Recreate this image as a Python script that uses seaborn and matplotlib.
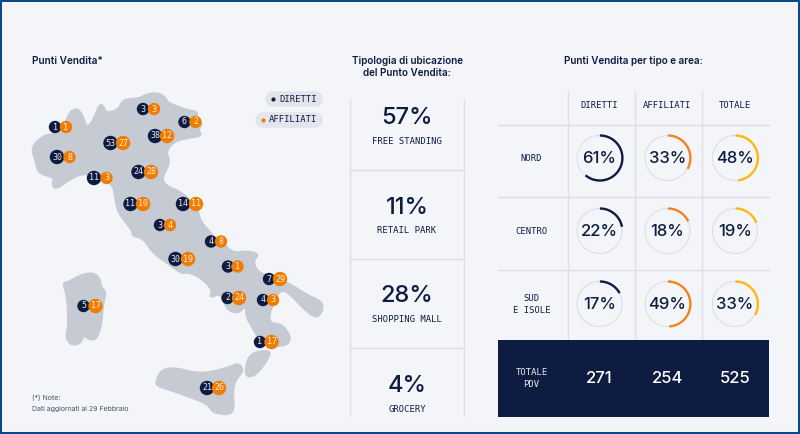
import numpy as np
import pandas as pd
import matplotlib
matplotlib.use("Agg")
import matplotlib.pyplot as plt
import matplotlib.patheffects as pe
from matplotlib.patches import Polygon, Rectangle
import seaborn as sns

# ---- values
diretti = [1, 3, 6, 38, 53, 30, 24, 11, 11, 14, 3, 4, 30, 3, 7, 2, 4, 5, 1, 21]
affiliati = [1, 3, 2, 12, 27, 8, 28, 3, 10, 11, 4, 8, 19, 1, 29, 24, 3, 17, 17, 26]
ubicazione_pct = [57, 11, 28, 4]
ubicazione_lbl = ["FREE STANDING", "RETAIL PARK", "SHOPPING MALL", "GROCERY"]
colonne = ["DIRETTI", "AFFILIATI", "TOTALE"]
righe = ["NORD", "CENTRO", "SUD\nE ISOLE"]
pct_diretti = [61, 22, 17]
pct_affiliati = [33, 18, 49]
pct_totale = [48, 19, 33]
totali = [271, 254, 525]

# ---- layout (pixels)
x_dir = [55, 143, 184.5, 155, 110.5, 57, 138.5, 94, 130.5, 183, 160, 211, 175.5, 228, 269, 227.5, 263, 83.5, 260, 207]
x_aff = [66, 154, 195.5, 167, 123, 69.5, 151, 106.5, 143, 196, 170, 221, 188, 237.5, 280, 239, 273, 95.5, 271.5, 219]
y_pin = [127, 109, 122, 136, 143, 157, 172, 178, 204, 204, 225, 241.5, 259, 266.5, 279, 298, 300, 306, 342, 388]
mainland = [(31,147),(43,136),(52,134),(62,132),(68,116),(72,110),(78,109),(83,116),(87,129),(95,117),(99,105),(103,105),
 (106,113),(118,110),(123,100),(131,99),(140,98),(147,94),(158,93),(165,97),(168,103),(187,110),(199,112),(194,119),
 (203,123),(198,130),(202,136),(187,138),(173,142),(166,152),(170,162),(165,172),(162,180),(168,187),(177,190),
 (187,197),(197,207),(200,220),(208,230),(217,240),(223,243),(233,253),(248,251),(259,254),(253,262),
 (258,272),(267,275),(287,282),(307,295),(323,302),(322,313),(315,318),(303,308),(288,292),(280,290),(272,305),
 (268,323),(282,324),(291,337),(287,346),(262,346),(254,330),(246,317),(246,305),(238,314),(226,309),(222,293),
 (209,298),(213,290),(200,277),(187,272),(182,274),(167,263),(153,253),(143,238),(132,236),(133,231),(118,213),
 (115,197),(113,185),(103,180),(87,173),(73,177),(55,190),(52,183),(55,178),(38,173),(36,162)]
calabria = [(250,353),(270,350),(269,358),(256,375),(247,377),(245,370)]
sardegna = [(63,283),(68,282),(83,274),(94,273),(100,279),(101,287),(106,292),(103,305),(101,327),(96,340),(88,339),
 (84,335),(80,344),(71,345),(66,338),(68,327),(68,307),(66,293)]
sicilia = [(156,381),(162,369),(177,368),(190,372),(207,373),(230,367),(238,363),(244,370),(234,382),(233,397),
 (234,403),(232,415),(213,413),(208,404),(187,396),(167,389),(157,386)]
col_x = [599.5, 667.5, 735]
row_y = [158, 231, 304]

NAVY = "#0e1c42"; ORANGE = "#f07d00"; ARC_OR = "#f58220"; YEL = "#fdb813"
BG = "#f3f5f8"; LINE = "#dcdfe6"; MAP = "#c5cad3"; BLUE = "#0b4a8c"
SANS = "Inter"; MONO = "DejaVu Sans Mono"

def smooth(pts, n=2):
    p = np.asarray(pts, float)
    for _ in range(n):
        q = np.roll(p, -1, axis=0)
        p = np.column_stack([0.75 * p + 0.25 * q, 0.25 * p + 0.75 * q]).reshape(-1, 2)
    return p

sns.set_theme(style="white")
fig = plt.figure(figsize=(8, 4.34), dpi=100, facecolor=BG)
ax = fig.add_axes([0, 0, 1, 1])
ax.set_xlim(0, 800); ax.set_ylim(434, 0); ax.axis("off")

ax.add_patch(Rectangle((0, 0), 800, 434, fc="none", ec=BLUE, lw=2.9, zorder=10, clip_on=True))

def T(x, y, s, size, color=NAVY, weight="normal", fam=SANS, **k):
    return ax.text(x, y, s, fontsize=size, color=color, fontweight=weight, family=fam,
                   ha=k.pop("ha", "center"), va=k.pop("va", "center"), **k)

T(32, 60.5, "Punti Vendita*", 7.25, weight="semibold", ha="left")
T(407, 60.5, "Tipologia di ubicazione", 7.15, weight="semibold")
T(407, 73, "del Punto Vendita:", 7.15, weight="semibold")
T(633, 60.5, "Punti Vendita per tipo e area:", 7.15, weight="semibold")

for poly in (mainland, calabria, sardegna, sicilia):
    ax.add_patch(Polygon(smooth(poly), closed=True, fc=MAP, ec=MAP, lw=1.4, joinstyle="round", zorder=1))

pins = pd.DataFrame({"d": diretti, "a": affiliati, "xd": x_dir, "xa": x_aff, "y": y_pin})
pins["sd"] = np.where(pins.d >= 10, 108, 80)
pins["sa"] = np.where(pins.a >= 10, 108, 80)
sns.scatterplot(data=pins, x="xd", y="y", s=pins.sd, color=NAVY, edgecolor="none", linewidth=0, ax=ax, zorder=3, legend=False)
sns.scatterplot(data=pins, x="xa", y="y", s=pins.sa, color=ORANGE, edgecolor="none", linewidth=0, ax=ax, zorder=4, legend=False)
for r in pins.itertuples():
    T(r.xd, r.y, str(r.d), 6, color="#e8eaf0", fam=MONO, zorder=5)
    T(r.xa, r.y, str(r.a), 6, color="#fbeedd", fam=MONO, zorder=5)

for x0, x1, y, lab, c, dx in [(265, 323, 99, colonne[0], NAVY, 273), (255, 323, 119.5, colonne[1], ORANGE, 262.5)]:
    ax.plot([x0 + 8, x1 - 8], [y, y], color="#e2e5eb", lw=11.2, solid_capstyle="round", zorder=2)
    ax.plot([dx], [y], "o", ms=3, color=c, mew=0, zorder=3)
    T(dx + 6, y, lab, 6.4, fam=MONO, ha="left", zorder=3)

T(32, 397.5, "(*) Note:", 5, color="#4a5470", ha="left")
T(32, 409, "Dati aggiornati al 29 Febbraio", 5, color="#4a5470", ha="left")

ax.plot([350, 350], [100, 416], color=LINE, lw=1, zorder=1)
ax.plot([464, 464], [100, 416], color=LINE, lw=1, zorder=1)
for y in (169.5, 259, 348):
    ax.plot([350, 464], [y, y], color=LINE, lw=1, zorder=1)
uy = [118.5, 207.5, 296.5, 386]
for y, p, l in zip(uy, ubicazione_pct, ubicazione_lbl):
    T(407, y, f"{p}%", 17, weight="medium")
    T(407, y + 23, l, 6.4, fam=MONO)

for x in (567.5, 634.5, 701.5):
    ax.plot([x, x], [91, 340], color=LINE, lw=1, zorder=1)
for y in (124.5, 197, 270):
    ax.plot([497.5, 769], [y, y], color=LINE, lw=1, zorder=1)
ax.add_patch(Rectangle((497.5, 340), 271.5, 77, fc=NAVY, ec="none", zorder=2))
for x, c in zip(col_x, colonne):
    T(x - 0.5, 106, c, 6.4, fam=MONO)
for y, r in zip(row_y, righe):
    T(531.5, y + 0.5, r, 6.4, fam=MONO, linespacing=1.35)
T(531.5, 378.5, "TOTALE\nPDV", 6.4, color="#e8eaf0", fam=MONO, zorder=3, linespacing=1.35)

th = np.linspace(0, 2 * np.pi, 200)
R = 22.5
for x, vals, c in zip(col_x, (pct_diretti, pct_affiliati, pct_totale), (NAVY, ARC_OR, YEL)):
    for y, v in zip(row_y, vals):
        ax.plot(x + R * np.cos(th), y + R * np.sin(th), color="#dcdfe4", lw=0.8, zorder=2)
        a = np.linspace(0, 2 * np.pi * v / 100, 120)
        ax.plot(x + 0.4 + R * np.sin(a), y - R * np.cos(a), color=c, lw=1.7, solid_capstyle="butt", zorder=3)
        T(x, y + 0.8, f"{v}%", 12, weight="medium")
for x, v in zip(col_x, totali):
    T(x, 378.5, str(v), 12, color="white", weight="medium", zorder=3)

ax.set_xlim(0, 800); ax.set_ylim(434, 0)
fig.savefig("out.png", dpi=100, facecolor=BG)
